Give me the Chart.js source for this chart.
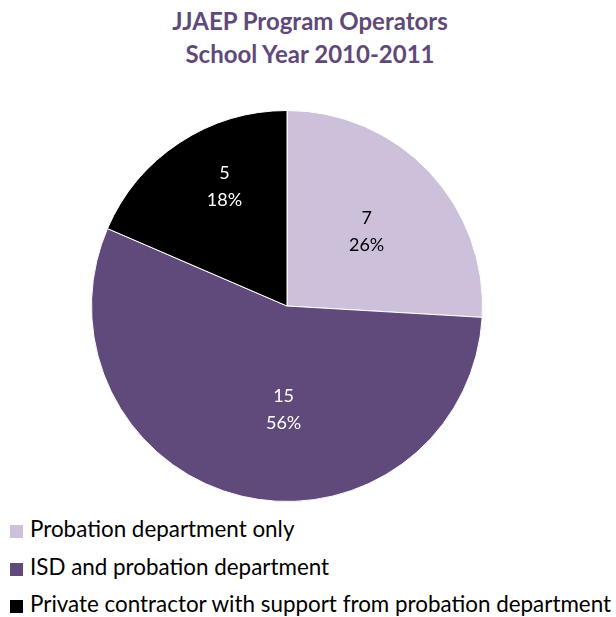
<!DOCTYPE html>
<html>
<head>
<meta charset="utf-8">
<script src="https://cdn.jsdelivr.net/npm/chart.js@4"></script>
<style>
  html, body { margin: 0; padding: 0; background: #fff; }
  #title { width: 616px; height: 70px; box-sizing: border-box; padding: 4px 0 0 4px; text-align: center;
           font-family: Lato, "Liberation Sans", sans-serif; font-weight: bold; font-size: 24px; line-height: 33px; color: #5F497A; }
  #wrap { width: 616px; height: 440px; position: relative; }
  #legend { margin: 0; padding: 0 0 0 10px; list-style: none; font-family: Lato, "Liberation Sans", sans-serif; font-size: 22.4px; color: #000; }
  #legend li { height: 37.5px; line-height: 37.5px; white-space: nowrap; }
  #legend span.box { display: inline-block; width: 13px; height: 13px; margin-right: 7px; vertical-align: -1px; }
</style>
</head>
<body>
<div id="title"></div>
<div id="wrap"><canvas id="pieChart"></canvas></div>
<ul id="legend"></ul>
<script>
// Chart data
const titleLines = ['JJAEP Program Operators', 'School Year 2010-2011'];
const categories = ['Probation department only', 'ISD and probation department', 'Private contractor with support from probation department'];
const programCounts = [7, 15, 5];
const percentLabels = ['26%', '56%', '18%'];
const sliceColors = ['#CCC0DA', '#604A7B', '#000000'];

document.getElementById('title').innerHTML = titleLines.join('<br>');

// draws "count / percent" inside each slice
const sliceLabels = {
    id: 'sliceLabels',
    afterDatasetsDraw: function(chart, args, opts) {
        const ctx = chart.ctx;
        const meta = chart.getDatasetMeta(0);
        ctx.save();
        ctx.font = '18px Lato, "Liberation Sans", sans-serif';
        ctx.textAlign = 'center';
        ctx.textBaseline = 'middle';
        meta.data.forEach(function(arc, i) {
            const mid = (arc.startAngle + arc.endAngle) / 2 + opts.shift[i];
            const r = arc.outerRadius * opts.radius[i];
            const x = arc.x + Math.cos(mid) * r;
            const y = arc.y + Math.sin(mid) * r;
            ctx.fillStyle = opts.colors[i];
            ctx.fillText(String(programCounts[i]), x, y - 13);
            ctx.fillText(percentLabels[i], x, y + 14);
        });
        ctx.restore();
    }
};

new Chart(document.getElementById('pieChart'), {
    type: 'pie',
    data: {
        labels: categories,
        datasets: [{
            data: programCounts,
            backgroundColor: sliceColors,
            borderColor: '#ffffff',
            borderWidth: 1
        }]
    },
    options: {
        responsive: true,
        maintainAspectRatio: false,
        animation: false,
        layout: { padding: { top: 40, right: 42, bottom: 8 } },
        plugins: {
            legend: { display: false },
            tooltip: { enabled: false },
            sliceLabels: {
                radius: [0.56, 0.53, 0.69],
                shift: [0, -0.2, 0.1],
                colors: ['#000000', '#ffffff', '#ffffff']
            }
        }
    },
    plugins: [sliceLabels]
});

// Legend list
const legend = document.getElementById('legend');
categories.forEach(function(name, i) {
    const li = document.createElement('li');
    li.innerHTML = '<span class="box" style="background:' + sliceColors[i] + '"></span>' + name;
    legend.appendChild(li);
});
</script>
</body>
</html>
